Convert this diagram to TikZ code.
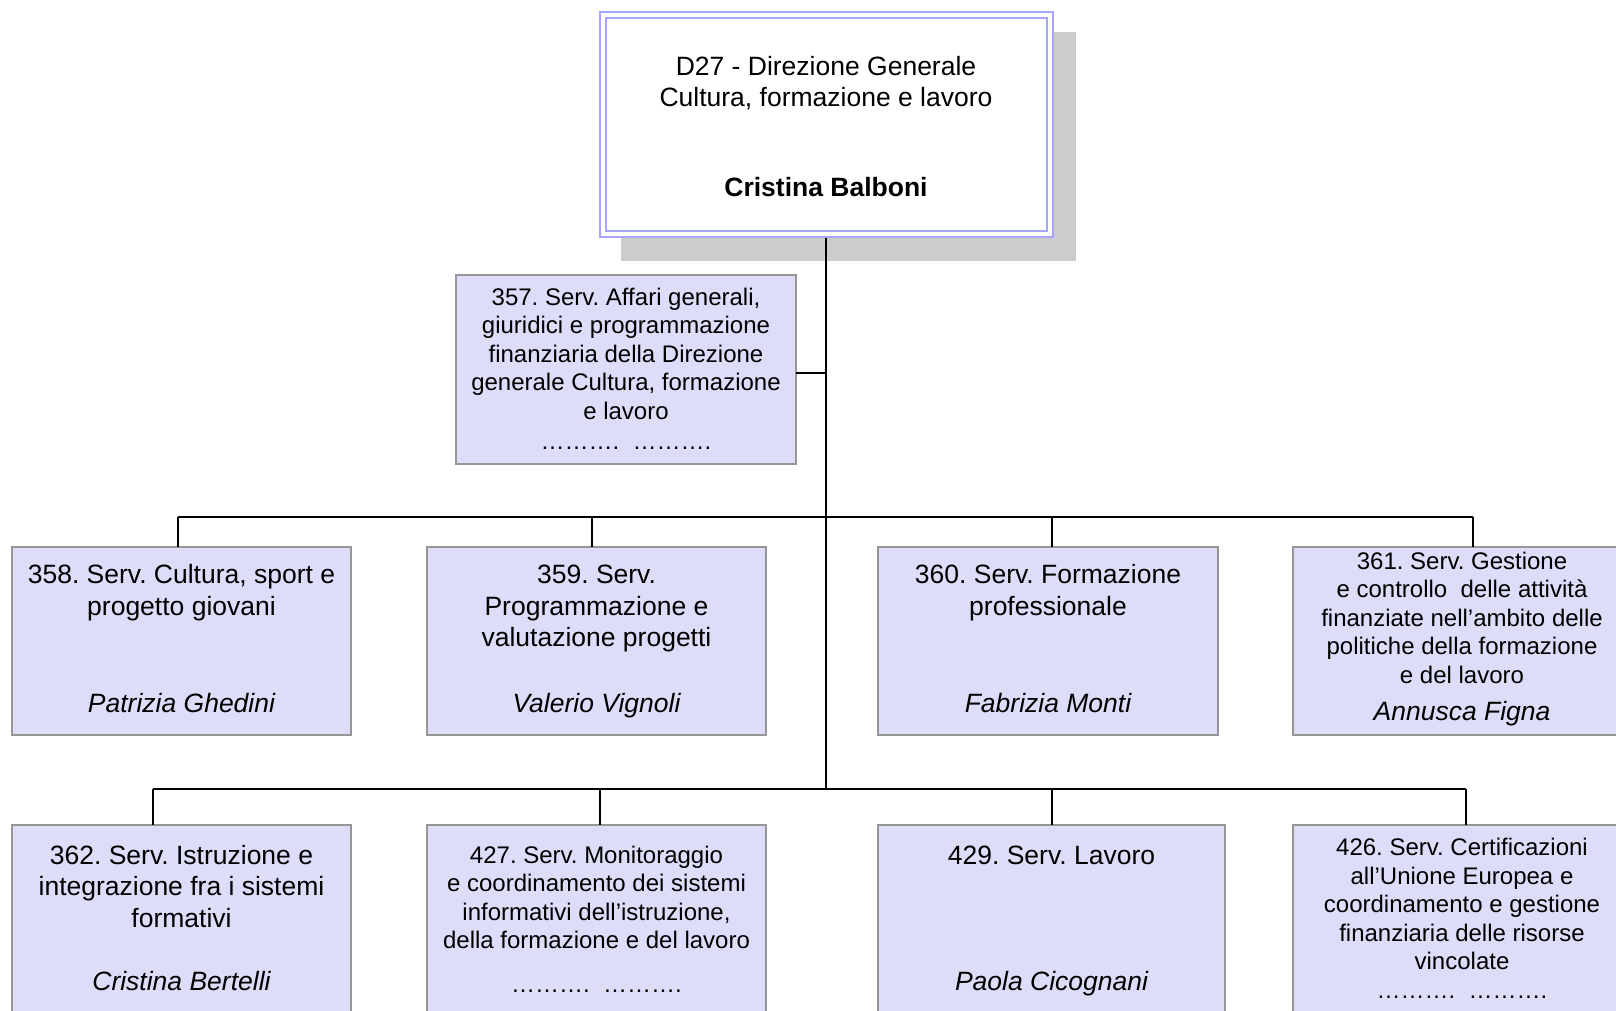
\documentclass[tikz,border=0pt]{standalone}
\usepackage{fontspec}
\setmainfont{Liberation Sans}
\definecolor{lav}{RGB}{165,165,250}
\definecolor{boxfill}{RGB}{221,221,250}
\definecolor{boxgray}{RGB}{150,150,150}
\definecolor{shadowgray}{RGB}{204,204,204}
\begin{document}
\frenchspacing
\begin{tikzpicture}[x=1pt,y=-1pt,
  svc/.style={draw=boxgray, fill=boxfill, line width=1.6pt, anchor=north west, inner sep=0pt, outer sep=0pt},
  big/.style={align=center, inner sep=0pt, font=\fontsize{26.5}{31.5}\selectfont\frenchspacing},
  small/.style={align=center, inner sep=0pt, font=\fontsize{24}{28.5}\selectfont\frenchspacing},
  nm/.style={align=center, inner sep=0pt, anchor=base, font=\fontsize{26.5}{31.5}\selectfont\itshape},
  conn/.style={draw=black, line width=1.8pt}]
\useasboundingbox (0,0) rectangle (1616,1010);

% top box with shadow
\node[fill=shadowgray, minimum width=455pt, minimum height=229pt, anchor=north west, inner sep=0pt] (shadow) at (621,32) {};
\node[draw=lav, double=white, double distance=4pt, line width=2pt, fill=white,
      minimum width=447pt, minimum height=218.5pt, inner sep=0pt, outer sep=4pt] (top) at (826,124.25) {};
\node[big] (ttop) at (826,83) {D27 - Direzione Generale\\Cultura, formazione e lavoro};
\node[big, font=\fontsize{26.5}{31.5}\selectfont\bfseries] (ntop) at (826,187) {Cristina Balboni};

% staff box 357
\node[svc, minimum width=340pt, minimum height=189pt] (b357) at (456,275) {};
\node[small] (t357) at (626,353.5) {357. Serv. Affari generali,\\giuridici e programmazione\\finanziaria della Direzione\\generale Cultura, formazione\\e lavoro};
\node[small] (d357) at (626,448) {………. \ ……….};

% row 1
\node[svc, minimum width=339pt, minimum height=188pt] (b358) at (12,547) {};
\node[big] (t358) at (181.5,592.5) {358. Serv. Cultura, sport e\\progetto giovani};
\node[nm] (n358) at (181.5,712.5) {Patrizia Ghedini};

\node[svc, minimum width=339pt, minimum height=188pt] (b359) at (427,547) {};
\node[big] (t359) at (596.5,608.5) {359. Serv.\\Programmazione e\\valutazione progetti};
\node[nm] (n359) at (596.5,712.5) {Valerio Vignoli};

\node[svc, minimum width=340pt, minimum height=188pt] (b360) at (878,547) {};
\node[big] (t360) at (1048,592.5) {360. Serv. Formazione\\professionale};
\node[nm] (n360) at (1048,712.5) {Fabrizia Monti};

\node[svc, minimum width=339pt, minimum height=188pt] (b361) at (1293,547) {};
\node[small] (t361) at (1462,617.5) {361. Serv. Gestione\\e controllo \ delle attività\\finanziate nell’ambito delle\\politiche della formazione\\e del lavoro};
\node[nm] (n361) at (1462,720.5) {Annusca Figna};

% row 2
\node[svc, minimum width=339pt, minimum height=200pt] (b362) at (12,825) {};
\node[big] (t362) at (181.5,886.5) {362. Serv. Istruzione e\\integrazione fra i sistemi\\formativi};
\node[nm] (n362) at (181.5,990.5) {Cristina Bertelli};

\node[svc, minimum width=339pt, minimum height=200pt] (b427) at (427,825) {};
\node[small] (t427) at (596.5,897.5) {427. Serv. Monitoraggio\\e coordinamento dei sistemi\\informativi dell’istruzione,\\della formazione e del lavoro};
\node[small] (d427) at (596.5,991) {………. \ ……….};

\node[svc, minimum width=347pt, minimum height=200pt] (b429) at (878,825) {};
\node[big] (t429) at (1051.5,855) {429. Serv. Lavoro};
\node[nm] (n429) at (1051.5,990.5) {Paola Cicognani};

\node[svc, minimum width=339pt, minimum height=200pt] (b426) at (1293,825) {};
\node[small] (t426) at (1462,904) {426. Serv. Certificazioni\\all’Unione Europea e\\coordinamento e gestione\\finanziaria delle risorse\\vincolate};
\node[small] (d426) at (1462,997) {………. \ ……….};

% junction coordinates
\coordinate (j357) at (826,373);
\coordinate (r1m) at (826,517);
\coordinate (r1a) at (178,517);
\coordinate (r1b) at (592,517);
\coordinate (r1c) at (1052,517);
\coordinate (r1d) at (1473,517);
\coordinate (r2m) at (826,789);
\coordinate (r2a) at (153,789);
\coordinate (r2b) at (600,789);
\coordinate (r2c) at (1052,789);
\coordinate (r2d) at (1466,789);

% connectors
\draw[conn] (top.south) -- (r2m);
\draw[conn] (b357.east |- j357) -- (j357);
\draw[conn] (r1a) -- (r1d);
\draw[conn] (r2a) -- (r2d);
\draw[conn] (r1a) -- (r1a |- b358.north);
\draw[conn] (r1b) -- (r1b |- b359.north);
\draw[conn] (r1c) -- (r1c |- b360.north);
\draw[conn] (r1d) -- (r1d |- b361.north);
\draw[conn] (r2a) -- (r2a |- b362.north);
\draw[conn] (r2b) -- (r2b |- b427.north);
\draw[conn] (r2c) -- (r2c |- b429.north);
\draw[conn] (r2d) -- (r2d |- b426.north);
\end{tikzpicture}
\end{document}
